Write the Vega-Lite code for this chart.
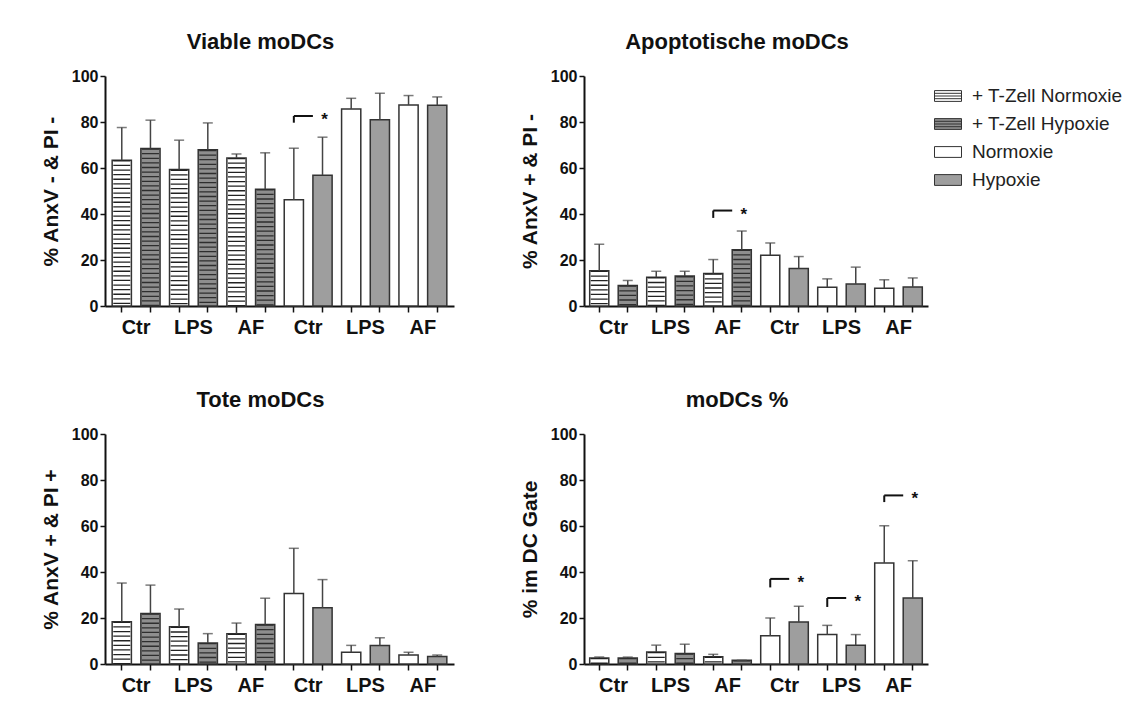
{
  "$schema": "https://vega.github.io/schema/vega-lite/v6.json",
  "padding": {"top": 31, "left": 40, "right": 5, "bottom": 5},
  "background": "#ffffff",
  "config": {
    "font": "Liberation Sans",
    "view": {"stroke": null},
    "axis": {"domainColor": "#111", "domainWidth": 2, "tickColor": "#111", "tickWidth": 1.5, "labelColor": "#111", "titleColor": "#111", "grid": false},
    "title": {"fontSize": 22, "fontWeight": "bold", "color": "#111", "offset": 14, "dx": -19}
  },
  "datasets": {
    "bars": [
      {"panel": "A", "bar": "Ctr|TN", "cond": "+ T-Zell Normoxie", "value": 63.4, "upper": 77.6},
      {"panel": "A", "bar": "Ctr|TH", "cond": "+ T-Zell Hypoxie", "value": 68.5, "upper": 80.8},
      {"panel": "A", "bar": "LPS|TN", "cond": "+ T-Zell Normoxie", "value": 59.3, "upper": 72.1},
      {"panel": "A", "bar": "LPS|TH", "cond": "+ T-Zell Hypoxie", "value": 67.9, "upper": 79.6},
      {"panel": "A", "bar": "AF|TN", "cond": "+ T-Zell Normoxie", "value": 64.4, "upper": 66.1},
      {"panel": "A", "bar": "AF|TH", "cond": "+ T-Zell Hypoxie", "value": 50.8, "upper": 66.6},
      {"panel": "A", "bar": "Ctr|N", "cond": "Normoxie", "value": 46.2, "upper": 68.6},
      {"panel": "A", "bar": "Ctr|H", "cond": "Hypoxie", "value": 56.9, "upper": 73.4},
      {"panel": "A", "bar": "LPS|N", "cond": "Normoxie", "value": 85.7, "upper": 90.3},
      {"panel": "A", "bar": "LPS|H", "cond": "Hypoxie", "value": 81.0, "upper": 92.5},
      {"panel": "A", "bar": "AF|N", "cond": "Normoxie", "value": 87.4, "upper": 91.5},
      {"panel": "A", "bar": "AF|H", "cond": "Hypoxie", "value": 87.3, "upper": 90.9},
      {"panel": "B", "bar": "Ctr|TN", "cond": "+ T-Zell Normoxie", "value": 15.3, "upper": 26.9},
      {"panel": "B", "bar": "Ctr|TH", "cond": "+ T-Zell Hypoxie", "value": 8.9, "upper": 11.1},
      {"panel": "B", "bar": "LPS|TN", "cond": "+ T-Zell Normoxie", "value": 12.5, "upper": 15.1},
      {"panel": "B", "bar": "LPS|TH", "cond": "+ T-Zell Hypoxie", "value": 13.0, "upper": 15.1},
      {"panel": "B", "bar": "AF|TN", "cond": "+ T-Zell Normoxie", "value": 14.1, "upper": 20.2},
      {"panel": "B", "bar": "AF|TH", "cond": "+ T-Zell Hypoxie", "value": 24.5, "upper": 32.6},
      {"panel": "B", "bar": "Ctr|N", "cond": "Normoxie", "value": 22.1, "upper": 27.4},
      {"panel": "B", "bar": "Ctr|H", "cond": "Hypoxie", "value": 16.3, "upper": 21.5},
      {"panel": "B", "bar": "LPS|N", "cond": "Normoxie", "value": 8.2, "upper": 11.8},
      {"panel": "B", "bar": "LPS|H", "cond": "Hypoxie", "value": 9.6, "upper": 16.9},
      {"panel": "B", "bar": "AF|N", "cond": "Normoxie", "value": 7.7, "upper": 11.4},
      {"panel": "B", "bar": "AF|H", "cond": "Hypoxie", "value": 8.3, "upper": 12.2},
      {"panel": "C", "bar": "Ctr|TN", "cond": "+ T-Zell Normoxie", "value": 18.4, "upper": 35.2},
      {"panel": "C", "bar": "Ctr|TH", "cond": "+ T-Zell Hypoxie", "value": 22.0, "upper": 34.3},
      {"panel": "C", "bar": "LPS|TN", "cond": "+ T-Zell Normoxie", "value": 16.2, "upper": 23.9},
      {"panel": "C", "bar": "LPS|TH", "cond": "+ T-Zell Hypoxie", "value": 9.1, "upper": 13.2},
      {"panel": "C", "bar": "AF|TN", "cond": "+ T-Zell Normoxie", "value": 13.2, "upper": 17.8},
      {"panel": "C", "bar": "AF|TH", "cond": "+ T-Zell Hypoxie", "value": 17.2, "upper": 28.6},
      {"panel": "C", "bar": "Ctr|N", "cond": "Normoxie", "value": 30.6, "upper": 50.3},
      {"panel": "C", "bar": "Ctr|H", "cond": "Hypoxie", "value": 24.5, "upper": 36.7},
      {"panel": "C", "bar": "LPS|N", "cond": "Normoxie", "value": 5.1, "upper": 8.1},
      {"panel": "C", "bar": "LPS|H", "cond": "Hypoxie", "value": 8.0, "upper": 11.4},
      {"panel": "C", "bar": "AF|N", "cond": "Normoxie", "value": 3.9, "upper": 5.1},
      {"panel": "C", "bar": "AF|H", "cond": "Hypoxie", "value": 3.3, "upper": 3.9},
      {"panel": "D", "bar": "Ctr|TN", "cond": "+ T-Zell Normoxie", "value": 2.6, "upper": 3.0},
      {"panel": "D", "bar": "Ctr|TH", "cond": "+ T-Zell Hypoxie", "value": 2.6, "upper": 3.0},
      {"panel": "D", "bar": "LPS|TN", "cond": "+ T-Zell Normoxie", "value": 5.2, "upper": 8.2},
      {"panel": "D", "bar": "LPS|TH", "cond": "+ T-Zell Hypoxie", "value": 4.6, "upper": 8.6},
      {"panel": "D", "bar": "AF|TN", "cond": "+ T-Zell Normoxie", "value": 3.2, "upper": 4.2},
      {"panel": "D", "bar": "AF|TH", "cond": "+ T-Zell Hypoxie", "value": 1.6, "upper": 1.6},
      {"panel": "D", "bar": "Ctr|N", "cond": "Normoxie", "value": 12.3, "upper": 20.0},
      {"panel": "D", "bar": "Ctr|H", "cond": "Hypoxie", "value": 18.3, "upper": 25.1},
      {"panel": "D", "bar": "LPS|N", "cond": "Normoxie", "value": 12.8, "upper": 16.8},
      {"panel": "D", "bar": "LPS|H", "cond": "Hypoxie", "value": 8.1, "upper": 12.8},
      {"panel": "D", "bar": "AF|N", "cond": "Normoxie", "value": 43.9, "upper": 60.1},
      {"panel": "D", "bar": "AF|H", "cond": "Hypoxie", "value": 28.7, "upper": 44.9}
    ],
    "sig": [
      {"panel": "A", "from": "Ctr|N", "to": "Ctr|H", "low": 79.7, "high": 82.6, "mark": "*"},
      {"panel": "B", "from": "AF|TN", "to": "AF|TH", "low": 38.3, "high": 41.5, "mark": "*"},
      {"panel": "D", "from": "Ctr|N", "to": "Ctr|H", "low": 33.3, "high": 37.0, "mark": "*"},
      {"panel": "D", "from": "LPS|N", "to": "LPS|H", "low": 24.8, "high": 28.7, "mark": "*"},
      {"panel": "D", "from": "AF|N", "to": "AF|H", "low": 70.4, "high": 73.3, "mark": "*"}
    ]
  },
  "columns": 2,
  "spacing": {"column": 65, "row": 52},
  "resolve": {"scale": {"fill": "independent"}, "legend": {"fill": "independent"}},
  "concat": [
    {
      "width": 349, "height": 230,
      "title": "Viable moDCs",
      "layer": [
        {"data": {"name": "bars"}, "transform": [{"filter": "datum.panel == 'A'"}],
         "mark": {"type": "bar", "stroke": "#333", "strokeWidth": 1.5},
         "encoding": {
           "x": {"field": "bar", "type": "nominal", "scale": {"domain": ["Ctr|TN","Ctr|TH","LPS|TN","LPS|TH","AF|TN","AF|TH","Ctr|N","Ctr|H","LPS|N","LPS|H","AF|N","AF|H"], "paddingInner": 0.33, "paddingOuter": 0.25},
                 "axis": {"title": null, "tickSize": 6, "labelFontSize": 20, "labelFontWeight": "bold", "labelAngle": 0, "labelPadding": 5, "labelOffset": 14.3, "labelOverlap": false, "labelBound": false, "labelExpr": "split(datum.value,'|')[1] == 'TN' || split(datum.value,'|')[1] == 'N' ? split(datum.value,'|')[0] : ''"}},
           "y": {"field": "value", "type": "quantitative", "scale": {"domain": [0, 100]},
                 "axis": {"title": "% AnxV - & PI -", "values": [0,20,40,60,80,100], "tickSize": 5, "labelFontSize": 16, "labelFontWeight": "bold", "labelPadding": 2, "titleFontSize": 21, "titleFontWeight": "bold", "titlePadding": 10}},
           "fill": {"field": "cond", "type": "nominal", "scale": {"domain": ["+ T-Zell Normoxie","+ T-Zell Hypoxie","Normoxie","Hypoxie"], "range": ["#ffffff","#8e8e8e","#ffffff","#9e9e9e"]}, "legend": null}
         }},
        {"data": {"name": "bars"}, "transform": [{"filter": "datum.panel == 'A' && indexof(datum.cond, 'T-Zell') >= 0"}],
         "mark": {"type": "rule", "strokeWidth": 17, "strokeDash": [1.3, 3.3], "strokeCap": "butt"},
         "encoding": {
           "x": {"field": "bar", "type": "nominal", "bandPosition": 0.5},
           "y": {"field": "value", "type": "quantitative"},
           "y2": {"datum": 0},
           "stroke": {"condition": {"test": "datum.cond == '+ T-Zell Hypoxie'", "value": "#2e2e2e"}, "value": "#222"}
         }},
        {"data": {"name": "bars"}, "transform": [{"filter": "datum.panel == 'A'"}],
         "mark": {"type": "rule", "stroke": "#444", "strokeWidth": 1.5},
         "encoding": {"x": {"field": "bar", "type": "nominal", "bandPosition": 0.5}, "y": {"field": "value", "type": "quantitative"}, "y2": {"field": "upper"}}},
        {"data": {"name": "bars"}, "transform": [{"filter": "datum.panel == 'A'"}],
         "mark": {"type": "tick", "color": "#444", "size": 10, "thickness": 1.5, "orient": "horizontal"},
         "encoding": {"x": {"field": "bar", "type": "nominal"}, "y": {"field": "upper", "type": "quantitative"}}},
        {"data": {"name": "sig"}, "transform": [{"filter": "datum.panel == 'A'"}],
         "mark": {"type": "rule", "stroke": "#111", "strokeWidth": 2},
         "encoding": {"x": {"field": "from", "type": "nominal", "bandPosition": 0.5}, "y": {"field": "low", "type": "quantitative"}, "y2": {"field": "high"}}},
        {"data": {"name": "sig"}, "transform": [{"filter": "datum.panel == 'A'"}],
         "mark": {"type": "rule", "stroke": "#111", "strokeWidth": 2},
         "encoding": {"x": {"field": "from", "type": "nominal", "bandPosition": 0.5}, "x2": {"field": "to", "bandPosition": 0}, "y": {"field": "high", "type": "quantitative"}}},
        {"data": {"name": "sig"}, "transform": [{"filter": "datum.panel == 'A'"}],
         "mark": {"type": "text", "fontSize": 17, "fontWeight": "bold", "color": "#111", "baseline": "alphabetic", "dy": 9, "dx": 2},
         "encoding": {"x": {"field": "to", "type": "nominal", "bandPosition": 0.5}, "y": {"field": "high", "type": "quantitative"}, "text": {"field": "mark"}}}
      ]
    },
    {
      "width": 344, "height": 230,
      "title": "Apoptotische moDCs",
      "layer": [
        {"data": {"name": "bars"}, "transform": [{"filter": "datum.panel == 'B'"}],
         "mark": {"type": "bar", "stroke": "#333", "strokeWidth": 1.5},
         "encoding": {
           "x": {"field": "bar", "type": "nominal", "scale": {"domain": ["Ctr|TN","Ctr|TH","LPS|TN","LPS|TH","AF|TN","AF|TH","Ctr|N","Ctr|H","LPS|N","LPS|H","AF|N","AF|H"], "paddingInner": 0.33, "paddingOuter": 0.2},
                 "axis": {"title": null, "tickSize": 6, "labelFontSize": 20, "labelFontWeight": "bold", "labelAngle": 0, "labelPadding": 5, "labelOffset": 14.3, "labelOverlap": false, "labelBound": false, "labelExpr": "split(datum.value,'|')[1] == 'TN' || split(datum.value,'|')[1] == 'N' ? split(datum.value,'|')[0] : ''"}},
           "y": {"field": "value", "type": "quantitative", "scale": {"domain": [0, 100]},
                 "axis": {"title": "% AnxV + & PI -", "values": [0,20,40,60,80,100], "tickSize": 5, "labelFontSize": 16, "labelFontWeight": "bold", "labelPadding": 2, "titleFontSize": 21, "titleFontWeight": "bold", "titlePadding": 10}},
           "fill": {"field": "cond", "type": "nominal", "scale": {"domain": ["+ T-Zell Normoxie","+ T-Zell Hypoxie","Normoxie","Hypoxie"], "range": ["#ffffff","#8e8e8e","#ffffff","#9e9e9e"]},
                    "legend": {"title": null, "orient": "right", "offset": 0, "padding": 6, "labelFontSize": 19, "labelColor": "#222", "labelOffset": 10, "rowPadding": 4, "symbolSize": 729, "symbolStrokeColor": "#333", "symbolStrokeWidth": 1, "symbolOpacity": 1,
                               "encode": {"symbols": {"update": {"shape": {"signal": "indexof(datum.value, 'T-Zell') >= 0 ? 'M-1,-0.4H1V0.4H-1Z M-1,-0.2H1 M-1,0H1 M-1,0.2H1' : 'M-1,-0.4H1V0.4H-1Z'"}}}}}}
         }},
        {"data": {"name": "bars"}, "transform": [{"filter": "datum.panel == 'B' && indexof(datum.cond, 'T-Zell') >= 0"}],
         "mark": {"type": "rule", "strokeWidth": 17, "strokeDash": [1.3, 3.3], "strokeCap": "butt"},
         "encoding": {
           "x": {"field": "bar", "type": "nominal", "bandPosition": 0.5},
           "y": {"field": "value", "type": "quantitative"},
           "y2": {"datum": 0},
           "stroke": {"condition": {"test": "datum.cond == '+ T-Zell Hypoxie'", "value": "#2e2e2e"}, "value": "#222"}
         }},
        {"data": {"name": "bars"}, "transform": [{"filter": "datum.panel == 'B'"}],
         "mark": {"type": "rule", "stroke": "#444", "strokeWidth": 1.5},
         "encoding": {"x": {"field": "bar", "type": "nominal", "bandPosition": 0.5}, "y": {"field": "value", "type": "quantitative"}, "y2": {"field": "upper"}}},
        {"data": {"name": "bars"}, "transform": [{"filter": "datum.panel == 'B'"}],
         "mark": {"type": "tick", "color": "#444", "size": 10, "thickness": 1.5, "orient": "horizontal"},
         "encoding": {"x": {"field": "bar", "type": "nominal"}, "y": {"field": "upper", "type": "quantitative"}}},
        {"data": {"name": "sig"}, "transform": [{"filter": "datum.panel == 'B'"}],
         "mark": {"type": "rule", "stroke": "#111", "strokeWidth": 2},
         "encoding": {"x": {"field": "from", "type": "nominal", "bandPosition": 0.5}, "y": {"field": "low", "type": "quantitative"}, "y2": {"field": "high"}}},
        {"data": {"name": "sig"}, "transform": [{"filter": "datum.panel == 'B'"}],
         "mark": {"type": "rule", "stroke": "#111", "strokeWidth": 2},
         "encoding": {"x": {"field": "from", "type": "nominal", "bandPosition": 0.5}, "x2": {"field": "to", "bandPosition": 0}, "y": {"field": "high", "type": "quantitative"}}},
        {"data": {"name": "sig"}, "transform": [{"filter": "datum.panel == 'B'"}],
         "mark": {"type": "text", "fontSize": 17, "fontWeight": "bold", "color": "#111", "baseline": "alphabetic", "dy": 9, "dx": 2},
         "encoding": {"x": {"field": "to", "type": "nominal", "bandPosition": 0.5}, "y": {"field": "high", "type": "quantitative"}, "text": {"field": "mark"}}}
      ]
    },
    {
      "width": 349, "height": 230,
      "title": "Tote moDCs",
      "layer": [
        {"data": {"name": "bars"}, "transform": [{"filter": "datum.panel == 'C'"}],
         "mark": {"type": "bar", "stroke": "#333", "strokeWidth": 1.5},
         "encoding": {
           "x": {"field": "bar", "type": "nominal", "scale": {"domain": ["Ctr|TN","Ctr|TH","LPS|TN","LPS|TH","AF|TN","AF|TH","Ctr|N","Ctr|H","LPS|N","LPS|H","AF|N","AF|H"], "paddingInner": 0.33, "paddingOuter": 0.25},
                 "axis": {"title": null, "tickSize": 6, "labelFontSize": 20, "labelFontWeight": "bold", "labelAngle": 0, "labelPadding": 5, "labelOffset": 14.3, "labelOverlap": false, "labelBound": false, "labelExpr": "split(datum.value,'|')[1] == 'TN' || split(datum.value,'|')[1] == 'N' ? split(datum.value,'|')[0] : ''"}},
           "y": {"field": "value", "type": "quantitative", "scale": {"domain": [0, 100]},
                 "axis": {"title": "% AnxV + & PI +", "values": [0,20,40,60,80,100], "tickSize": 5, "labelFontSize": 16, "labelFontWeight": "bold", "labelPadding": 2, "titleFontSize": 21, "titleFontWeight": "bold", "titlePadding": 10}},
           "fill": {"field": "cond", "type": "nominal", "scale": {"domain": ["+ T-Zell Normoxie","+ T-Zell Hypoxie","Normoxie","Hypoxie"], "range": ["#ffffff","#8e8e8e","#ffffff","#9e9e9e"]}, "legend": null}
         }},
        {"data": {"name": "bars"}, "transform": [{"filter": "datum.panel == 'C' && indexof(datum.cond, 'T-Zell') >= 0"}],
         "mark": {"type": "rule", "strokeWidth": 17, "strokeDash": [1.3, 3.3], "strokeCap": "butt"},
         "encoding": {
           "x": {"field": "bar", "type": "nominal", "bandPosition": 0.5},
           "y": {"field": "value", "type": "quantitative"},
           "y2": {"datum": 0},
           "stroke": {"condition": {"test": "datum.cond == '+ T-Zell Hypoxie'", "value": "#2e2e2e"}, "value": "#222"}
         }},
        {"data": {"name": "bars"}, "transform": [{"filter": "datum.panel == 'C'"}],
         "mark": {"type": "rule", "stroke": "#444", "strokeWidth": 1.5},
         "encoding": {"x": {"field": "bar", "type": "nominal", "bandPosition": 0.5}, "y": {"field": "value", "type": "quantitative"}, "y2": {"field": "upper"}}},
        {"data": {"name": "bars"}, "transform": [{"filter": "datum.panel == 'C'"}],
         "mark": {"type": "tick", "color": "#444", "size": 10, "thickness": 1.5, "orient": "horizontal"},
         "encoding": {"x": {"field": "bar", "type": "nominal"}, "y": {"field": "upper", "type": "quantitative"}}}
      ]
    },
    {
      "width": 344, "height": 230,
      "title": "moDCs %",
      "layer": [
        {"data": {"name": "bars"}, "transform": [{"filter": "datum.panel == 'D'"}],
         "mark": {"type": "bar", "stroke": "#333", "strokeWidth": 1.5},
         "encoding": {
           "x": {"field": "bar", "type": "nominal", "scale": {"domain": ["Ctr|TN","Ctr|TH","LPS|TN","LPS|TH","AF|TN","AF|TH","Ctr|N","Ctr|H","LPS|N","LPS|H","AF|N","AF|H"], "paddingInner": 0.33, "paddingOuter": 0.2},
                 "axis": {"title": null, "tickSize": 6, "labelFontSize": 20, "labelFontWeight": "bold", "labelAngle": 0, "labelPadding": 5, "labelOffset": 14.3, "labelOverlap": false, "labelBound": false, "labelExpr": "split(datum.value,'|')[1] == 'TN' || split(datum.value,'|')[1] == 'N' ? split(datum.value,'|')[0] : ''"}},
           "y": {"field": "value", "type": "quantitative", "scale": {"domain": [0, 100]},
                 "axis": {"title": "% im DC Gate", "values": [0,20,40,60,80,100], "tickSize": 5, "labelFontSize": 16, "labelFontWeight": "bold", "labelPadding": 2, "titleFontSize": 21, "titleFontWeight": "bold", "titlePadding": 10}},
           "fill": {"field": "cond", "type": "nominal", "scale": {"domain": ["+ T-Zell Normoxie","+ T-Zell Hypoxie","Normoxie","Hypoxie"], "range": ["#ffffff","#8e8e8e","#ffffff","#9e9e9e"]}, "legend": null}
         }},
        {"data": {"name": "bars"}, "transform": [{"filter": "datum.panel == 'D' && indexof(datum.cond, 'T-Zell') >= 0"}],
         "mark": {"type": "rule", "strokeWidth": 17, "strokeDash": [1.3, 3.3], "strokeCap": "butt"},
         "encoding": {
           "x": {"field": "bar", "type": "nominal", "bandPosition": 0.5},
           "y": {"field": "value", "type": "quantitative"},
           "y2": {"datum": 0},
           "stroke": {"condition": {"test": "datum.cond == '+ T-Zell Hypoxie'", "value": "#2e2e2e"}, "value": "#222"}
         }},
        {"data": {"name": "bars"}, "transform": [{"filter": "datum.panel == 'D'"}],
         "mark": {"type": "rule", "stroke": "#444", "strokeWidth": 1.5},
         "encoding": {"x": {"field": "bar", "type": "nominal", "bandPosition": 0.5}, "y": {"field": "value", "type": "quantitative"}, "y2": {"field": "upper"}}},
        {"data": {"name": "bars"}, "transform": [{"filter": "datum.panel == 'D'"}],
         "mark": {"type": "tick", "color": "#444", "size": 10, "thickness": 1.5, "orient": "horizontal"},
         "encoding": {"x": {"field": "bar", "type": "nominal"}, "y": {"field": "upper", "type": "quantitative"}}},
        {"data": {"name": "sig"}, "transform": [{"filter": "datum.panel == 'D'"}],
         "mark": {"type": "rule", "stroke": "#111", "strokeWidth": 2},
         "encoding": {"x": {"field": "from", "type": "nominal", "bandPosition": 0.5}, "y": {"field": "low", "type": "quantitative"}, "y2": {"field": "high"}}},
        {"data": {"name": "sig"}, "transform": [{"filter": "datum.panel == 'D'"}],
         "mark": {"type": "rule", "stroke": "#111", "strokeWidth": 2},
         "encoding": {"x": {"field": "from", "type": "nominal", "bandPosition": 0.5}, "x2": {"field": "to", "bandPosition": 0}, "y": {"field": "high", "type": "quantitative"}}},
        {"data": {"name": "sig"}, "transform": [{"filter": "datum.panel == 'D'"}],
         "mark": {"type": "text", "fontSize": 17, "fontWeight": "bold", "color": "#111", "baseline": "alphabetic", "dy": 9, "dx": 2},
         "encoding": {"x": {"field": "to", "type": "nominal", "bandPosition": 0.5}, "y": {"field": "high", "type": "quantitative"}, "text": {"field": "mark"}}}
      ]
    }
  ]
}
